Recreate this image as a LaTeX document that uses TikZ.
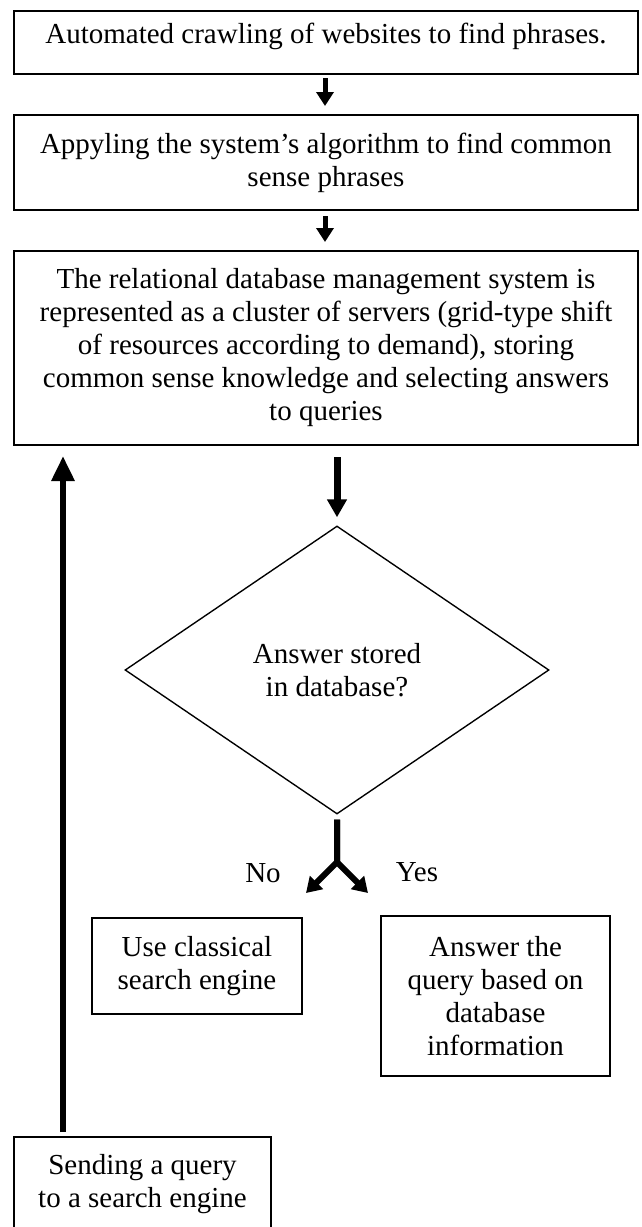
\documentclass[tikz,border=0pt]{standalone}
\usepackage{fontspec}
\setmainfont{Liberation Serif}
\usetikzlibrary{arrows.meta,shapes.geometric}
\begin{document}
\begin{tikzpicture}[x=0.4pt,y=-0.4pt,
  every node/.style={font=\fontsize{11.6pt}{13.2pt}\selectfont},
  box/.style={draw, line width=0.8pt, rectangle, align=center, inner sep=0pt},
  decision/.style={draw, diamond, line width=0.55pt, inner sep=0pt, align=center},
  conn/.style={line width=2pt, -{Triangle[length=5.6pt,width=6.8pt]}},
  connbig/.style={line width=2.8pt, -{Triangle[length=7.2pt,width=7.6pt]}},
  connback/.style={line width=2.4pt, -{Triangle[length=10pt,width=8.8pt]}},
  branch/.style={line width=2.4pt, -{Triangle[length=6pt,width=7.2pt]}}]
\useasboundingbox (0,0) rectangle (641,1227);
\clip (0,0) rectangle (641,1227);
\fill[white] (0,0) rectangle (641,1227);

\node[box, minimum width=249.6pt, minimum height=25.2pt] (b1) at (326,42.5)
  {Automated crawling of websites to find phrases.\rule[-7.4pt]{0pt}{0pt}};
\node[box, minimum width=249.6pt, minimum height=38pt] (b2) at (326,162.5)
  {Appyling the system’s algorithm to find common\\sense phrases};
\node[box, minimum width=249.6pt, minimum height=77.6pt] (b3) at (326,348)
  {The relational database management system is\\represented as a cluster of servers (grid-type shift\\of resources according to demand), storing\\common sense knowledge and selecting answers\\to queries};
\node[decision, minimum width=169.6pt, minimum height=115.2pt] (d) at (337,670)
  {Answer stored\\in database?};
\node[box, minimum width=84pt, minimum height=38.4pt] (u) at (197,966)
  {Use classical\\search engine};
\node[box, minimum width=91.6pt, minimum height=64pt] (a) at (495.5,996)
  {Answer the\\query based on\\database\\information};
\node[box, minimum width=102.8pt, minimum height=37.6pt] (s) at (142.5,1184)
  {Sending a query\\to a search engine};
\node (no) at (263,873) {No};
\node (yes) at (417,872) {Yes};

\coordinate (x1) at (325,0);
\coordinate (xd) at (337,0);
\coordinate (xl) at (63,0);
\coordinate (j) at (337,862);
\coordinate (tl) at (306,893);
\coordinate (tr) at (368,893);

\draw[conn, shorten <=1.2pt, shorten >=3.2pt] (b1.south -| x1) -- (b2.north -| x1);
\draw[conn, shorten <=2pt, shorten >=3.2pt] (b2.south -| x1) -- (b3.north -| x1);
\draw[connbig, shorten <=4.4pt, shorten >=3.2pt] (b3.south -| xd) -- (d.north);
\draw[connback, shorten <=1.6pt, shorten >=4pt] (s.north -| xl) -- (b3.south -| xl);
\draw[branch] ([yshift=-2pt]d.south) -- (j) -- (tl);
\draw[branch] ([yshift=-2pt]d.south) -- (j) -- (tr);
\end{tikzpicture}
\end{document}
